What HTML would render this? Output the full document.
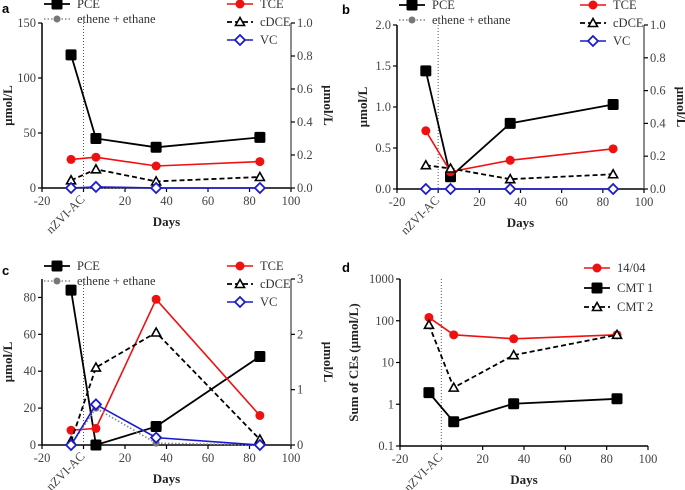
<!DOCTYPE html>
<html><head><meta charset="utf-8">
<style>
html,body{margin:0;padding:0;background:#fff;}
svg{display:block;font-family:"Liberation Serif",serif;}
.tk{font-size:12.5px;fill:#444;}
.lab{font-size:13px;font-weight:bold;fill:#222;}
.pl{font-family:"Liberation Sans",sans-serif;font-size:13px;font-weight:bold;}
.lg{font-size:12.5px;fill:#333;}
</style></head>
<body>
<svg id="fig" width="685" height="490" viewBox="0 0 685 490" xmlns="http://www.w3.org/2000/svg"></svg>
<script>
const days = [-6, 6, 35, 85];
// panel a
const aPCE = [121, 45, 37, 46];
const aTCE = [26, 28, 20, 24];
const aDCE = [7, 17, 6, 10];
const aVC = [0, 1, 0, 0];
const aEth = [0, 0, 0, 0];
// panel b
const bPCE = [1.44, 0.15, 0.8, 1.03];
const bTCE = [0.71, 0.21, 0.35, 0.49];
const bDCE = [0.29, 0.25, 0.12, 0.18];
const bVC = [0, 0, 0, 0];
const bEth = [0, 0, 0, 0];
// panel c
const cPCE = [84, 0, 10, 48];
const cTCE = [8, 9, 79, 16];
const cDCE = [2, 42, 61, 3];
const cVC = [0, 22, 4, 0];
const cEth = [0, 20, 1, 0];
// panel d
const d1404 = [120, 46, 37, 46];
const dCMT1 = [1.9, 0.38, 1.03, 1.35];
const dCMT2 = [80, 2.5, 15, 46];
const xTicks = [-20, 0, 20, 40, 60, 80, 100];
const aLeftTicks = [0, 50, 100, 150];
const bLeftTicks = [0.0, 0.5, 1.0, 1.5, 2.0];
const cLeftTicks = [0, 20, 40, 60, 80];
const rightTicks01 = [0.0, 0.2, 0.4, 0.6, 0.8, 1.0];
const cRightTicks = [0, 1, 2, 3];
const dTicks = [0.1, 1, 10, 100, 1000];

const NS = "http://www.w3.org/2000/svg";
const svg = document.getElementById('fig');
function el(tag, attrs, parent, text){
  const e = document.createElementNS(NS, tag);
  for (const k in attrs) e.setAttribute(k, attrs[k]);
  if (text !== undefined) e.textContent = text;
  (parent || svg).appendChild(e);
  return e;
}
function marker(g, type, x, y, color){
  let m;
  if (type === 'sq') m = el('rect', {x:x-5.5, y:y-5.5, width:11, height:11, rx:1.5, fill:color}, g);
  else if (type === 'dot') m = el('circle', {cx:x, cy:y, r:4.5, fill:color}, g);
  else if (type === 'gdot') m = el('circle', {cx:x, cy:y, r:3.5, fill:'#777'}, g);
  else if (type === 'tri') m = el('polygon', {points:`${x},${y-4.5} ${x-4.5},${y+3.5} ${x+4.5},${y+3.5}`, fill:'#fff', stroke:'#000', 'stroke-width':1.6}, g);
  else if (type === 'dia') m = el('polygon', {points:`${x},${y-5} ${x+5},${y} ${x},${y+5} ${x-5},${y}`, fill:'#fff', stroke:'#1a1ad0', 'stroke-width':1.8}, g);
  return m;
}
const styles = {
  PCE:{c:'#000', m:'sq', dash:null, w:1.8},
  TCE:{c:'#f01010', m:'dot', dash:null, w:1.6},
  DCE:{c:'#000', m:'tri', dash:'5,3', w:1.8},
  VC:{c:'#1a1ad0', m:'dia', dash:null, w:1.6},
  Eth:{c:'#888', m:'gdot', dash:'1.5,2', w:1.6}
};
function series(g, name, vals, sx, sy, st){
  const s = el('g', {}, g);
  
  
  const pts = vals.map((v,i)=>sx(days[i])+','+sy(v)).join(' ');
  const a = {points:pts, fill:'none', stroke:st.c, 'stroke-width':st.w};
  if (st.dash) a['stroke-dasharray'] = st.dash;
  el('polyline', a, s);
  vals.forEach((v,i)=>{
    const m = marker(s, st.m, sx(days[i]), sy(v), st.c);
    
    
  });
}
function legendEntry(g, name, x, y, st, label){
  const e = el('g', {}, g);
  
  
  const a = {x1:x-13, x2:x+13, y1:y, y2:y, stroke:st.c, 'stroke-width':st.w};
  if (st.dash) a['stroke-dasharray'] = st.dash;
  el('line', a, e);
  marker(e, st.m, x, y, st.c);
  el('text', {x:x+20, y:y+4, class:'lg'}, e, label);
}
function xAxis(g, x0, x1, y0, vline, ytop){
  const sx = d => x0 + (d + 20) / 120 * (x1 - x0);
  const ax = el('g', {}, g);
  
  
  el('line', {x1:x0, x2:x1, y1:y0, y2:y0, stroke:'#000', 'stroke-width':1.5}, ax);
  xTicks.forEach(t=>{
    el('line', {x1:sx(t), x2:sx(t), y1:y0, y2:y0+4, stroke:'#000', 'stroke-width':1.2}, ax);
    if (t !== 0) el('text', {x:sx(t), y:y0+17, class:'tk', 'text-anchor':'middle'}, ax, String(t));
  });
  const nz = el('text', {x:sx(0)+2, y:y0+12, class:'tk', 'text-anchor':'end', transform:`rotate(-45 ${sx(0)+2} ${y0+12})`}, ax, 'nZVI-AC');
  
  
  const dl = el('text', {x:(x0+x1)/2, y:y0+38, class:'lab', 'text-anchor':'middle'}, ax, 'Days');
  
  
  el('line', {x1:sx(0), x2:sx(0), y1:ytop, y2:y0, stroke:'#555', 'stroke-width':1, 'stroke-dasharray':'1,2'}, g);
  return sx;
}
function yAxis(g, x, yb, yt, ticks, max, side, fmt, label, lx){
  const sy = v => yb - v / max * (yb - yt);
  const ax = el('g', {}, g);
  
  
  el('line', {x1:x, x2:x, y1:yt, y2:yb, stroke: side==='l' ? '#000' : '#666', 'stroke-width':1.5}, ax);
  ticks.forEach(t=>{
    const y = sy(t);
    const dx = side === 'l' ? -4 : 4;
    el('line', {x1:x, x2:x+dx, y1:y, y2:y, stroke:'#000', 'stroke-width':1.2}, ax);
    el('text', {x:x + (side==='l' ? -6 : 6), y:y+4, class:'tk', 'text-anchor': side==='l' ? 'end' : 'start'}, ax, fmt(t));
  });
  if (label){
    const cy = (yb + yt) / 2;
    const rot = side === 'l' ? -90 : 90;
    const t = el('text', {x:lx, y:cy, class:'lab', 'text-anchor':'middle', transform:`rotate(${rot} ${lx} ${cy})`}, ax, label);
    
    
  }
  return sy;
}
function fmt1(t){ return t.toFixed(1); }
function fmt0(t){ return String(t); }

function panel(id, ox, oy, L, R, yb, yt, lt, lmax, lfmt, rt, rmax, data, letter){
  const g = el('g', {});
  
  
  const pl = el('text', {x:ox+2, y:oy+13, class:'pl'}, g, letter);
  
  
  const sx = xAxis(g, L, R, yb, 0, yt);
  const sy = yAxis(g, L, yb, yt, lt, lmax, 'l', lfmt, 'µmol/L', L-30);
  yAxis(g, R, yb, yt, rt, rmax, 'r', rmax===3?fmt0:fmt1, 'µmol/L', R+33);
  series(g, 'pce', data[0], sx, sy, styles.PCE);
  series(g, 'tce', data[1], sx, sy, styles.TCE);
  series(g, 'cdce', data[2], sx, sy, styles.DCE);
  series(g, 'ethene-ethane', data[4], sx, sy, styles.Eth);
  series(g, 'vc', data[3], sx, sy, styles.VC);
  const lg = el('g', {}, g);
  
  
  legendEntry(lg, 'pce', L+15, oy+4, styles.PCE, 'PCE');
  legendEntry(lg, 'ethene-ethane', L+15, oy+19, styles.Eth, 'ethene + ethane');
  legendEntry(lg, 'tce', R-51, oy+4, styles.TCE, 'TCE');
  legendEntry(lg, 'cdce', R-51, oy+22, styles.DCE, 'cDCE');
  legendEntry(lg, 'vc', R-51, oy+40, styles.VC, 'VC');
}
panel('a', 0, 0, 42, 291, 188, 23, aLeftTicks, 150, fmt0, rightTicks01, 1.0, [aPCE,aTCE,aDCE,aVC,aEth], 'a');
panel('b', 340, 1, 397, 644, 189, 25, bLeftTicks, 2.0, fmt1, rightTicks01, 1.0, [bPCE,bTCE,bDCE,bVC,bEth], 'b');
panel('c', 0, 262, 42, 291, 445, 279, cLeftTicks, 90, fmt0, cRightTicks, 3, [cPCE,cTCE,cDCE,cVC,cEth], 'c');

// panel d (log)
(function(){
  const g = el('g', {});
  
  
  const pl = el('text', {x:342, y:272, class:'pl'}, g, 'd');
  
  
  const L = 400, R = 648, yb = 446, yt = 279;
  const sx = xAxis(g, L, R, yb, 0, yt);
  const sy = v => yb - (Math.log10(v) + 1) / 4 * (yb - yt);
  const ax = el('g', {}, g);
  
  
  el('line', {x1:L, x2:L, y1:yt, y2:yb, stroke:'#000', 'stroke-width':1.5}, ax);
  dTicks.forEach(t=>{
    el('line', {x1:L, x2:L-4, y1:sy(t), y2:sy(t), stroke:'#000', 'stroke-width':1.2}, ax);
    el('text', {x:L-6, y:sy(t)+4, class:'tk', 'text-anchor':'end'}, ax, String(t));
  });
  const cy = (yb+yt)/2;
  const t = el('text', {x:L-42, y:cy, class:'lab', 'text-anchor':'middle', transform:`rotate(-90 ${L-42} ${cy})`}, ax, 'Sum of CEs (µmol/L)');
  
  
  series(g, '14-04', d1404, sx, sy, styles.TCE);
  series(g, 'cmt-2', dCMT2, sx, sy, styles.DCE);
  series(g, 'cmt-1', dCMT1, sx, sy, styles.PCE);
  const lg = el('g', {}, g);
  
  
  legendEntry(lg, '14-04', 597, 268, styles.TCE, '14/04');
  legendEntry(lg, 'cmt-1', 597, 288, styles.PCE, 'CMT 1');
  legendEntry(lg, 'cmt-2', 597, 307, styles.DCE, 'CMT 2');
})();
</script>
</body></html>
